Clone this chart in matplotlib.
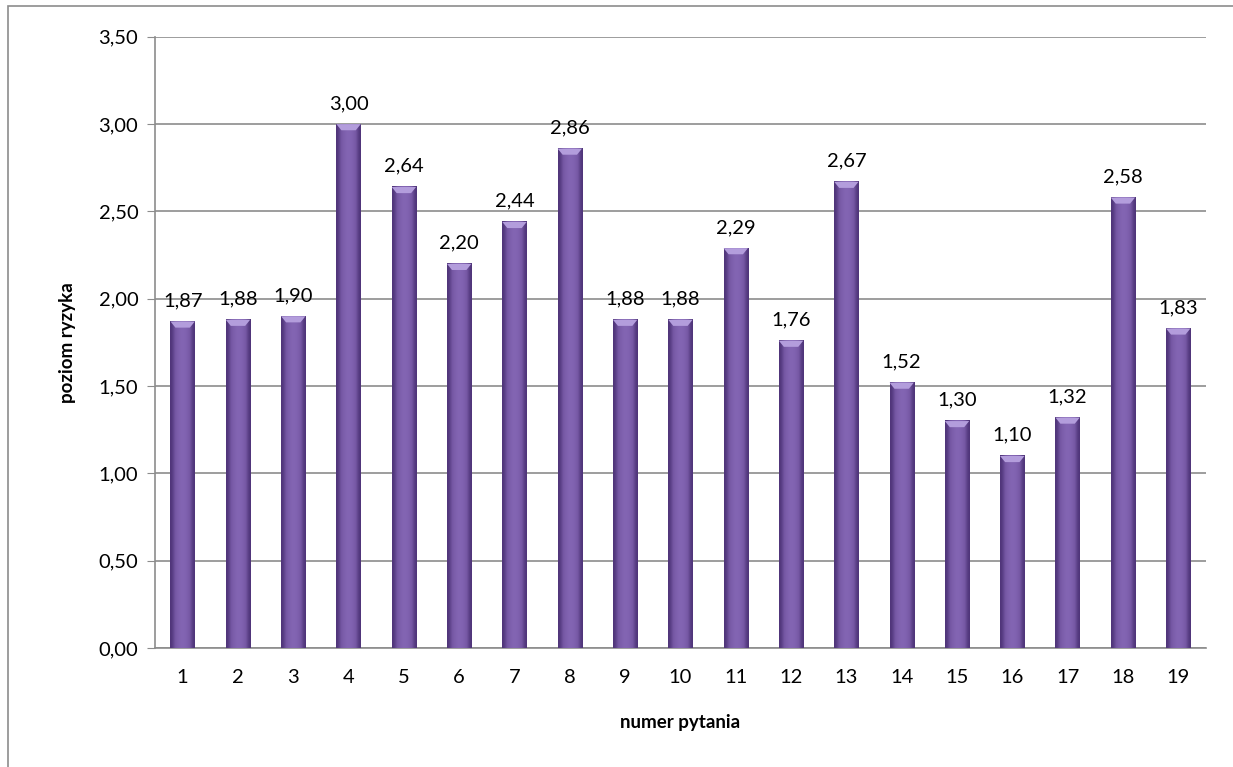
import matplotlib.pyplot as plt
import numpy as np
from matplotlib.patches import Rectangle, Polygon
from matplotlib.colors import LinearSegmentedColormap

# dane
pytania = [str(i) for i in range(1, 20)]
wartosci = [1.87, 1.88, 1.90, 3.00, 2.64, 2.20, 2.44, 2.86, 1.88, 1.88,
            2.29, 1.76, 2.67, 1.52, 1.30, 1.10, 1.32, 2.58, 1.83]
y_ticks = [0.0, 0.5, 1.0, 1.5, 2.0, 2.5, 3.0, 3.5]

plt.rcParams['font.family'] = ['Lato', 'DejaVu Sans']

fig = plt.figure(figsize=(12.33, 7.67), dpi=100)
ax = fig.add_axes([0.1257, 0.155, 0.8523, 0.797])

# ramka wykresu
fig.patches.append(Rectangle((0.0065, -0.05), 1.1, 1.042, transform=fig.transFigure,
                             fill=False, edgecolor='#8c8c8c', linewidth=1.2))

x = np.arange(len(wartosci))
w = 0.44

# gradient poziomy w slupkach
grad = np.array([[0.0, 0.55, 0.85, 1.0, 0.9, 0.6, 0.0]])
cmap = LinearSegmentedColormap.from_list('fiolet', ['#4e3478', '#7456a2', '#8466b4'])

for xi, v in zip(x, wartosci):
    ax.imshow(grad, extent=(xi - w / 2, xi + w / 2, 0, v), aspect='auto',
              cmap=cmap, vmin=0, vmax=1, zorder=3, interpolation='bicubic')
    # jasny "bevel" u gory
    d = 0.035
    ax.add_patch(Polygon([(xi - w / 2, v), (xi + w / 2, v), (xi + w / 2 - 0.09, v - d),
                          (xi - w / 2 + 0.09, v - d)], closed=True,
                         facecolor='#b39ddc', edgecolor='none', zorder=4))
    ax.text(xi, v + 0.07, f"{v:.2f}".replace('.', ','), ha='center', va='bottom',
            fontsize=14.5, color='black')

ax.set_xlim(-0.5, len(wartosci) - 0.5)
ax.set_ylim(0, 3.5)
ax.set_xticks(x)
ax.set_xticklabels(pytania, fontsize=14.5)
ax.set_yticks(y_ticks)
ax.set_yticklabels([f"{t:.2f}".replace('.', ',') for t in y_ticks], fontsize=14.5)
ax.tick_params(axis='x', length=0, pad=15)
ax.tick_params(axis='y', length=6, color='#8c8c8c', pad=6)

ax.grid(axis='y', color='#8c8c8c', linewidth=1.2, zorder=0)
ax.set_axisbelow(True)
for s in ['top', 'right']:
    ax.spines[s].set_visible(False)
for s in ['left', 'bottom']:
    ax.spines[s].set_color('#8c8c8c')
    ax.spines[s].set_linewidth(1.2)

ax.set_xlabel('numer pytania', fontsize=13.5, fontweight='bold', labelpad=20)
ax.set_ylabel('poziom ryzyka', fontsize=13.5, fontweight='bold', labelpad=16)

fig.savefig('out.png', dpi=100)
